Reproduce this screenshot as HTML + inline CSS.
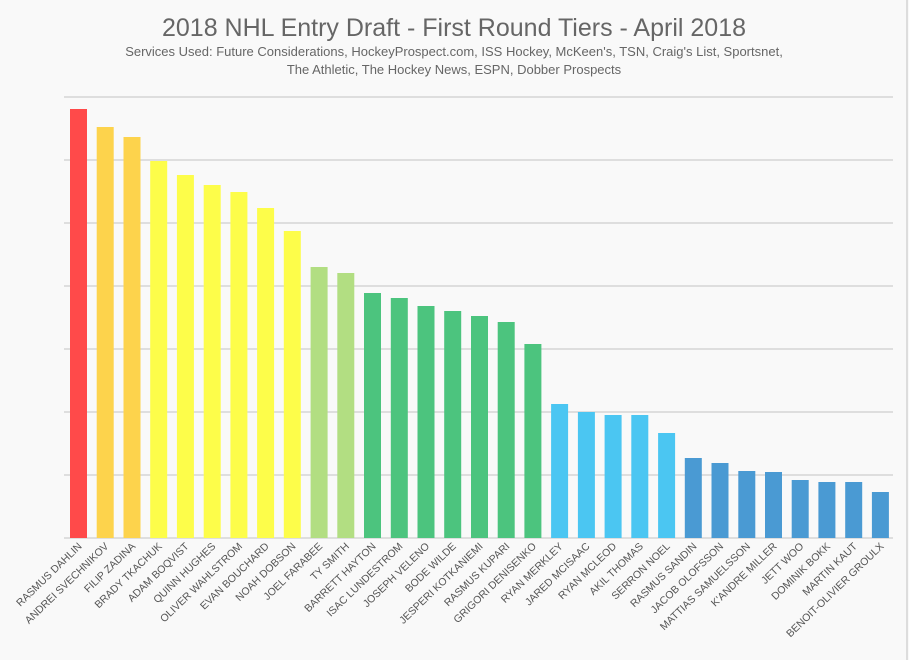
<!DOCTYPE html>
<html><head><meta charset="utf-8"><style>
body{margin:0;background:#f9f9f9;}
svg{display:block;font-family:"Liberation Sans",sans-serif;}
</style></head><body>
<svg width="909" height="660" xmlns="http://www.w3.org/2000/svg">
<rect width="909" height="660" fill="#f9f9f9"/>
<line x1="907" y1="0" x2="907" y2="660" stroke="#ddd" stroke-width="2"/>
<text x="454" y="36" text-anchor="middle" font-size="25" fill="#666">2018 NHL Entry Draft - First Round Tiers - April 2018</text>
<text x="454" y="56" text-anchor="middle" font-size="13" fill="#666">Services Used: Future Considerations, HockeyProspect.com, ISS Hockey, McKeen's, TSN, Craig's List, Sportsnet,</text>
<text x="454" y="74" text-anchor="middle" font-size="13" fill="#666">The Athletic, The Hockey News, ESPN, Dobber Prospects</text>
<g stroke="#d6d6d6" stroke-width="1.5">
<line x1="64" x2="893" y1="97" y2="97"/><line x1="64" x2="893" y1="160" y2="160"/>
<line x1="64" x2="893" y1="223" y2="223"/><line x1="64" x2="893" y1="286" y2="286"/>
<line x1="64" x2="893" y1="349" y2="349"/><line x1="64" x2="893" y1="412" y2="412"/>
<line x1="64" x2="893" y1="475" y2="475"/><line x1="64" x2="893" y1="538" y2="538"/>
</g>
<g>
<rect x="70.0" y="109" width="17" height="429" fill="#ff4a4a"/>
<rect x="96.7" y="127" width="17" height="411" fill="#fdd34c"/>
<rect x="123.5" y="137" width="17" height="401" fill="#fdd34c"/>
<rect x="150.2" y="161" width="17" height="377" fill="#fdfd4a"/>
<rect x="176.9" y="175" width="17" height="363" fill="#fdfd4a"/>
<rect x="203.7" y="185" width="17" height="353" fill="#fdfd4a"/>
<rect x="230.4" y="192" width="17" height="346" fill="#fdfd4a"/>
<rect x="257.1" y="208" width="17" height="330" fill="#fdfd4a"/>
<rect x="283.8" y="231" width="17" height="307" fill="#fdfd4a"/>
<rect x="310.6" y="267" width="17" height="271" fill="#b2de82"/>
<rect x="337.3" y="273" width="17" height="265" fill="#b2de82"/>
<rect x="364.0" y="293" width="17" height="245" fill="#4cc47e"/>
<rect x="390.8" y="298" width="17" height="240" fill="#4cc47e"/>
<rect x="417.5" y="306" width="17" height="232" fill="#4cc47e"/>
<rect x="444.2" y="311" width="17" height="227" fill="#4cc47e"/>
<rect x="471.0" y="316" width="17" height="222" fill="#4cc47e"/>
<rect x="497.7" y="322" width="17" height="216" fill="#4cc47e"/>
<rect x="524.4" y="344" width="17" height="194" fill="#4cc47e"/>
<rect x="551.1" y="404" width="17" height="134" fill="#4bc6f2"/>
<rect x="577.9" y="412" width="17" height="126" fill="#4bc6f2"/>
<rect x="604.6" y="415" width="17" height="123" fill="#4bc6f2"/>
<rect x="631.3" y="415" width="17" height="123" fill="#4bc6f2"/>
<rect x="658.1" y="433" width="17" height="105" fill="#4bc6f2"/>
<rect x="684.8" y="458" width="17" height="80" fill="#4a9ad3"/>
<rect x="711.5" y="463" width="17" height="75" fill="#4a9ad3"/>
<rect x="738.3" y="471" width="17" height="67" fill="#4a9ad3"/>
<rect x="765.0" y="472" width="17" height="66" fill="#4a9ad3"/>
<rect x="791.7" y="480" width="17" height="58" fill="#4a9ad3"/>
<rect x="818.4" y="482" width="17" height="56" fill="#4a9ad3"/>
<rect x="845.2" y="482" width="17" height="56" fill="#4a9ad3"/>
<rect x="871.9" y="492" width="17" height="46" fill="#4a9ad3"/>
</g>
<g font-size="10.5" fill="#555" text-anchor="end">
<text transform="translate(82.5,547) rotate(-44)">RASMUS DAHLIN</text>
<text transform="translate(109.2,547) rotate(-44)">ANDREI SVECHNIKOV</text>
<text transform="translate(136.0,547) rotate(-44)">FILIP ZADINA</text>
<text transform="translate(162.7,547) rotate(-44)">BRADY TKACHUK</text>
<text transform="translate(189.4,547) rotate(-44)">ADAM BOQVIST</text>
<text transform="translate(216.2,547) rotate(-44)">QUINN HUGHES</text>
<text transform="translate(242.9,547) rotate(-44)">OLIVER WAHLSTROM</text>
<text transform="translate(269.6,547) rotate(-44)">EVAN BOUCHARD</text>
<text transform="translate(296.3,547) rotate(-44)">NOAH DOBSON</text>
<text transform="translate(323.1,547) rotate(-44)">JOEL FARABEE</text>
<text transform="translate(349.8,547) rotate(-44)">TY SMITH</text>
<text transform="translate(376.5,547) rotate(-44)">BARRETT HAYTON</text>
<text transform="translate(403.3,547) rotate(-44)">ISAC LUNDESTROM</text>
<text transform="translate(430.0,547) rotate(-44)">JOSEPH VELENO</text>
<text transform="translate(456.7,547) rotate(-44)">BODE WILDE</text>
<text transform="translate(483.5,547) rotate(-44)">JESPERI KOTKANIEMI</text>
<text transform="translate(510.2,547) rotate(-44)">RASMUS KUPARI</text>
<text transform="translate(536.9,547) rotate(-44)">GRIGORI DENISENKO</text>
<text transform="translate(563.6,547) rotate(-44)">RYAN MERKLEY</text>
<text transform="translate(590.4,547) rotate(-44)">JARED MCISAAC</text>
<text transform="translate(617.1,547) rotate(-44)">RYAN MCLEOD</text>
<text transform="translate(643.8,547) rotate(-44)">AKIL THOMAS</text>
<text transform="translate(670.6,547) rotate(-44)">SERRON NOEL</text>
<text transform="translate(697.3,547) rotate(-44)">RASMUS SANDIN</text>
<text transform="translate(724.0,547) rotate(-44)">JACOB OLOFSSON</text>
<text transform="translate(750.8,547) rotate(-44)">MATTIAS SAMUELSSON</text>
<text transform="translate(777.5,547) rotate(-44)">K'ANDRE MILLER</text>
<text transform="translate(804.2,547) rotate(-44)">JETT WOO</text>
<text transform="translate(830.9,547) rotate(-44)">DOMINIK BOKK</text>
<text transform="translate(857.7,547) rotate(-44)">MARTIN KAUT</text>
<text transform="translate(884.4,547) rotate(-44)">BENOIT-OLIVIER GROULX</text>
</g>
</svg>
</body></html>
